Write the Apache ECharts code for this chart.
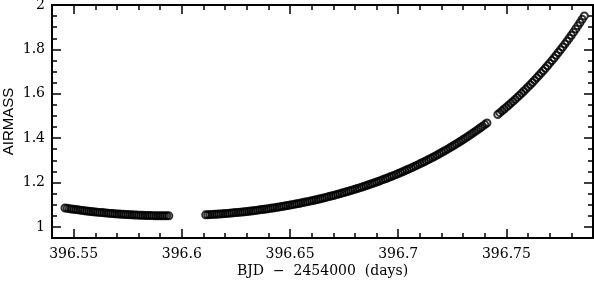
<!DOCTYPE html>
<html>
<head>
<meta charset="utf-8">
<script src="https://cdn.jsdelivr.net/npm/echarts@6/dist/echarts.min.js"></script>
<style>
html,body{margin:0;padding:0;background:#fff;}
#chart{width:594px;height:282px;}
</style>
</head>
<body>
<div id="chart"></div>
<script>
// Segment 1 (before the gap)
var bjd1 = [396.546,396.547,396.548,396.549,396.550,396.551,396.552,396.553,396.554,396.555,
  396.556,396.557,396.558,396.559,396.560,396.561,396.562,396.563,396.564,396.565,
  396.566,396.567,396.568,396.569,396.570,396.571,396.572,396.573,396.574,396.575,
  396.576,396.577,396.578,396.579,396.580,396.581,396.582,396.583,396.584,396.585,
  396.586,396.587,396.588,396.589,396.590,396.591,396.592,396.593,396.594];
var airmass1 = [1.0852,1.0837,1.0822,1.0808,1.0794,1.0781,1.0768,1.0755,1.0742,1.0730,
  1.0718,1.0707,1.0696,1.0685,1.0674,1.0664,1.0654,1.0644,1.0635,1.0626,
  1.0618,1.0609,1.0601,1.0594,1.0586,1.0579,1.0572,1.0566,1.0560,1.0554,
  1.0548,1.0543,1.0538,1.0534,1.0529,1.0525,1.0521,1.0518,1.0515,1.0512,
  1.0510,1.0507,1.0505,1.0504,1.0502,1.0501,1.0501,1.0500,1.0500];

// Segment 2
var bjd2 = [396.611,396.612,396.613,396.614,396.615,396.616,396.617,396.618,396.619,396.620,
  396.621,396.622,396.623,396.624,396.625,396.626,396.627,396.628,396.629,396.630,
  396.631,396.632,396.633,396.634,396.635,396.636,396.637,396.638,396.639,396.640,
  396.641,396.642,396.643,396.644,396.645,396.646,396.647,396.648,396.649,396.650,
  396.651,396.652,396.653,396.654,396.655,396.656,396.657,396.658,396.659,396.660,
  396.661,396.662,396.663,396.664,396.665,396.666,396.667,396.668,396.669,396.670,
  396.671,396.672,396.673,396.674,396.675,396.676,396.677,396.678,396.679,396.680,
  396.681,396.682,396.683,396.684,396.685,396.686,396.687,396.688,396.689,396.690,
  396.691,396.692,396.693,396.694,396.695,396.696,396.697,396.698,396.699,396.700,
  396.701,396.702,396.703,396.704,396.705,396.706,396.707,396.708,396.709,396.710,
  396.711,396.712,396.713,396.714,396.715,396.716,396.717,396.718,396.719,396.720,
  396.721,396.722,396.723,396.724,396.725,396.726,396.727,396.728,396.729,396.730,
  396.731,396.732,396.733,396.734,396.735,396.736,396.737,396.738,396.739,396.740,
  396.741];
var airmass2 = [1.0543,1.0548,1.0554,1.0560,1.0566,1.0572,1.0579,1.0586,1.0594,1.0601,
  1.0609,1.0618,1.0626,1.0635,1.0644,1.0654,1.0664,1.0674,1.0685,1.0696,
  1.0707,1.0718,1.0730,1.0742,1.0755,1.0768,1.0781,1.0794,1.0808,1.0822,
  1.0837,1.0852,1.0867,1.0882,1.0898,1.0915,1.0931,1.0948,1.0965,1.0983,
  1.1001,1.1020,1.1038,1.1057,1.1077,1.1097,1.1117,1.1138,1.1159,1.1180,
  1.1202,1.1224,1.1247,1.1270,1.1293,1.1317,1.1342,1.1366,1.1391,1.1417,
  1.1443,1.1469,1.1496,1.1523,1.1551,1.1579,1.1608,1.1637,1.1666,1.1696,
  1.1727,1.1758,1.1789,1.1821,1.1853,1.1886,1.1920,1.1954,1.1988,1.2023,
  1.2058,1.2094,1.2131,1.2168,1.2206,1.2244,1.2283,1.2322,1.2362,1.2402,
  1.2444,1.2485,1.2528,1.2571,1.2614,1.2658,1.2703,1.2749,1.2795,1.2842,
  1.2889,1.2937,1.2986,1.3036,1.3086,1.3137,1.3189,1.3241,1.3295,1.3349,
  1.3404,1.3459,1.3516,1.3573,1.3631,1.3690,1.3750,1.3810,1.3872,1.3934,
  1.3998,1.4062,1.4127,1.4193,1.4260,1.4328,1.4398,1.4468,1.4539,1.4611,
  1.4684];

// Segment 3 (after the second gap)
var bjd3 = [396.746,396.747,396.748,396.749,396.750,396.751,396.752,396.753,396.754,396.755,
  396.756,396.757,396.758,396.759,396.760,396.761,396.762,396.763,396.764,396.765,
  396.766,396.767,396.768,396.769,396.770,396.771,396.772,396.773,396.774,396.775,
  396.776,396.777,396.778,396.779,396.780,396.781,396.782,396.783,396.784,396.785,
  396.786];
var airmass3 = [1.5068,1.5148,1.5229,1.5312,1.5396,1.5481,1.5567,1.5655,1.5744,1.5835,
  1.5927,1.6020,1.6115,1.6211,1.6309,1.6408,1.6509,1.6612,1.6716,1.6822,
  1.6930,1.7039,1.7150,1.7263,1.7378,1.7495,1.7614,1.7734,1.7857,1.7982,
  1.8109,1.8238,1.8369,1.8503,1.8639,1.8777,1.8918,1.9061,1.9207,1.9356,
  1.9507];

var xTitle = 'BJD  \u2212  2454000  (days)';
var yTitle = 'AIRMASS';
var xRange = [396.54, 396.79];
var yRange = [0.95, 2.0];

function pairs(xs, ys) {
  var out = [];
  for (var i = 0; i < xs.length; i++) out.push([xs[i], ys[i]]);
  return out;
}

var AX = '#000';
var labelFont = {fontFamily: 'DejaVu Serif', fontSize: 14, color: '#000'};

function majorX(pos, withLabels) {
  return {
    type: 'value', position: pos, offset: 0,
    min: xRange[0], max: xRange[1], splitNumber: 5, scale: true,
    axisLine: {show: true, onZero: false, lineStyle: {color: AX, width: 2}},
    axisTick: {show: true, inside: true, length: 9, lineStyle: {color: AX, width: 1.5}},
    axisLabel: withLabels ? Object.assign({show: true, margin: 9, showMinLabel: false, showMaxLabel: false}, labelFont) : {show: false},
    splitLine: {show: false},
    name: withLabels ? xTitle : '',
    nameLocation: 'middle', nameGap: 26, nameMoveOverlap: false,
    nameTextStyle: {fontFamily: 'DejaVu Serif', fontSize: 14, color: '#000'}
  };
}
function minorX(pos) {
  return {
    type: 'value', position: pos, offset: 0,
    min: xRange[0], max: xRange[1], interval: 0.01, scale: true,
    axisLine: {show: false},
    axisTick: {show: true, inside: true, length: 5, lineStyle: {color: AX, width: 1.5}},
    axisLabel: {show: false}, splitLine: {show: false}
  };
}
function majorY(pos, withLabels) {
  return {
    type: 'value', position: pos, offset: 0,
    min: yRange[0], max: yRange[1], splitNumber: 5, scale: true,
    axisLine: {show: true, onZero: false, lineStyle: {color: AX, width: 2}},
    axisTick: {show: true, inside: true, length: 9, lineStyle: {color: AX, width: 1.5}},
    axisLabel: withLabels ? Object.assign({show: true, margin: 7, showMinLabel: false}, labelFont) : {show: false},
    splitLine: {show: false},
    name: withLabels ? yTitle : '',
    nameLocation: 'middle', nameGap: 36, nameRotate: 90, nameMoveOverlap: false,
    nameTextStyle: {fontFamily: 'Liberation Sans', fontSize: 15, color: '#000'}
  };
}
function minorY(pos) {
  return {
    type: 'value', position: pos, offset: 0,
    min: yRange[0], max: yRange[1], interval: 0.05, scale: true,
    axisLine: {show: false},
    axisTick: {show: true, inside: true, length: 5, lineStyle: {color: AX, width: 1.5}},
    axisLabel: {show: false}, splitLine: {show: false}
  };
}

var symStyle = {color: 'rgba(0,0,0,0)', borderColor: '#000', borderWidth: 2};
function seg(xs, ys) {
  return {
    type: 'scatter', xAxisIndex: 0, yAxisIndex: 0,
    data: pairs(xs, ys), symbol: 'circle', symbolSize: 7,
    itemStyle: symStyle, silent: true
  };
}

var chart = echarts.init(document.getElementById('chart'), null, {renderer: 'canvas'});
chart.setOption({
  animation: false,
  backgroundColor: '#fff',
  grid: {left: 52, right: 1, top: 5, bottom: 44, containLabel: false, outerBoundsMode: 'none'},
  xAxis: [majorX('bottom', true), majorX('top', false), minorX('top'), minorX('bottom')],
  yAxis: [majorY('left', true), majorY('right', false), minorY('right'), minorY('left')],
  series: [seg(bjd1, airmass1), seg(bjd2, airmass2), seg(bjd3, airmass3)]
});
</script>
</body>
</html>
